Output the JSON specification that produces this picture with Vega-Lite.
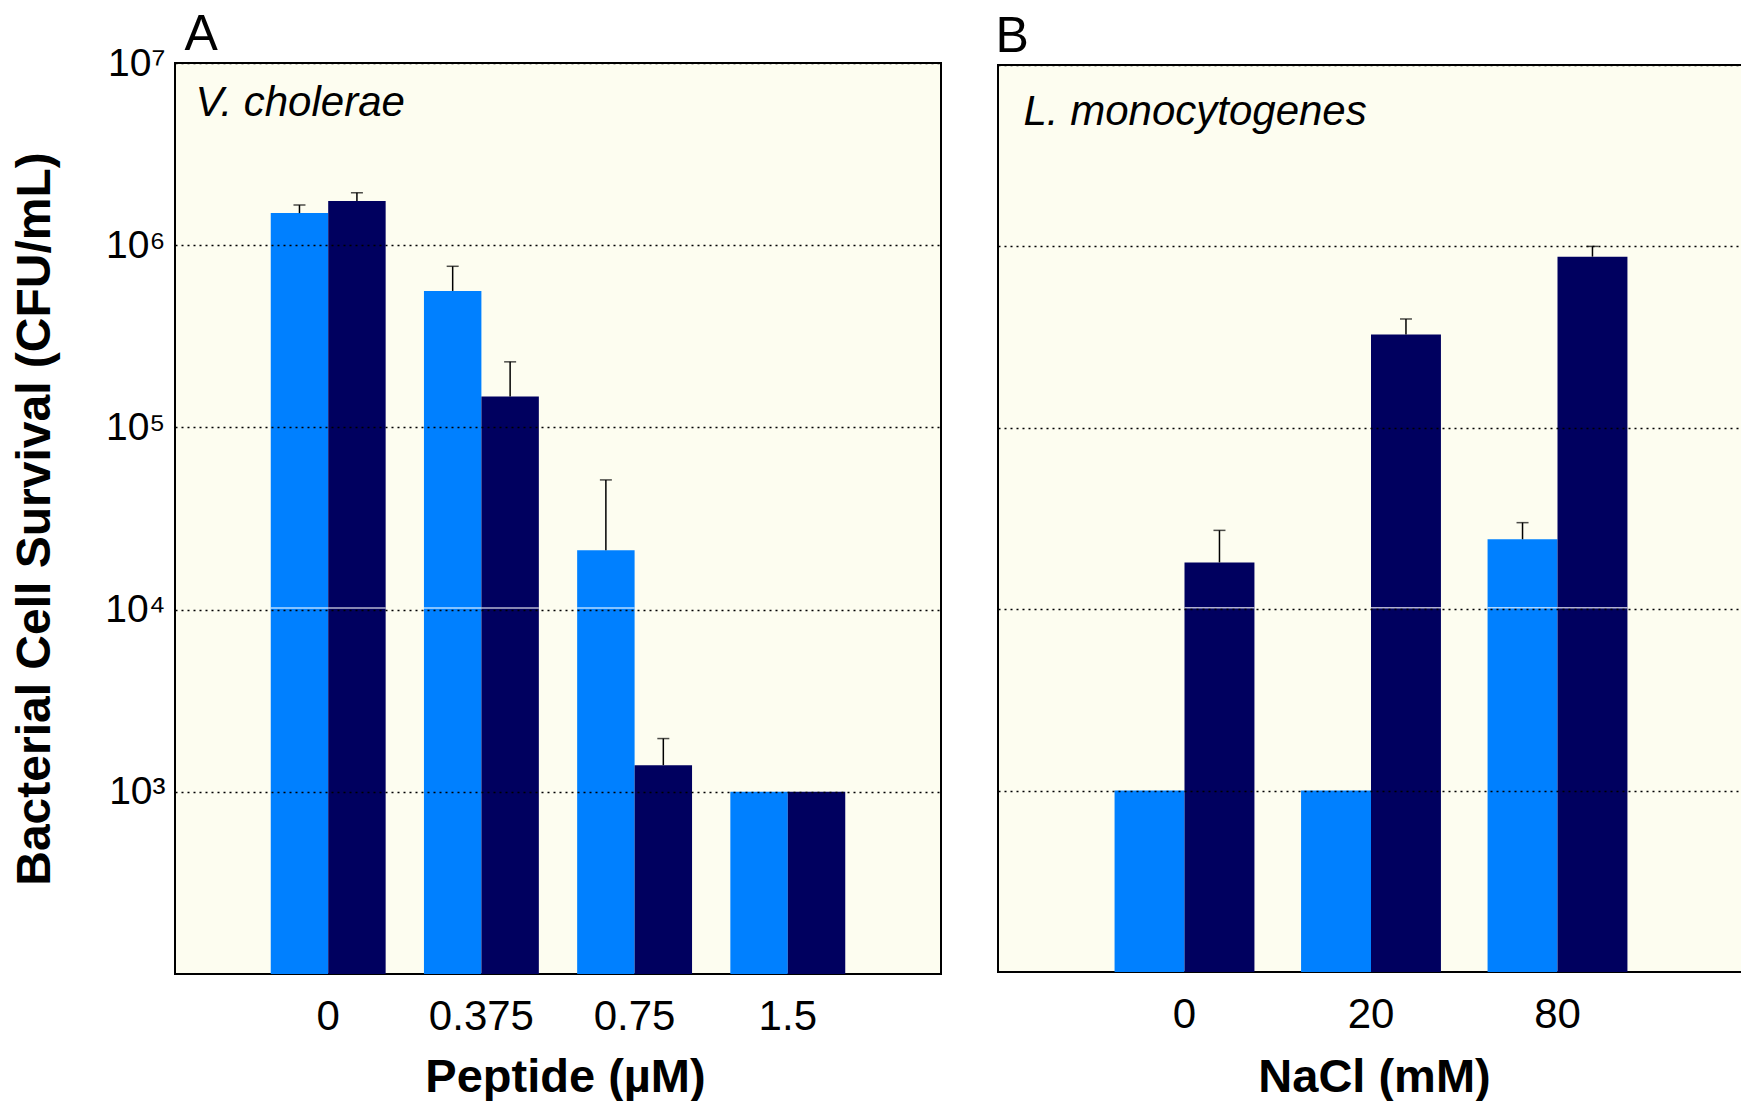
{
  "$schema": "https://vega.github.io/schema/vega-lite/v6.json",
  "autosize": {"type": "none"},
  "padding": {"left": 175, "top": 63, "right": 1566, "bottom": 1038},
  "background": "white",
  "bounds": "flush",
  "spacing": 57,
  "center": true,
  "resolve": {"scale": {"x": "independent", "xOffset": "independent", "y": "independent", "color": "independent"}},
  "datasets": {
    "vc": [
      {"dose": "0", "strain": "Series 1", "value": 1500000, "upper": 1660000},
      {"dose": "0", "strain": "Series 2", "value": 1750000, "upper": 1940000},
      {"dose": "0.375", "strain": "Series 1", "value": 561000, "upper": 766000},
      {"dose": "0.375", "strain": "Series 2", "value": 148000, "upper": 229000},
      {"dose": "0.75", "strain": "Series 1", "value": 21200, "upper": 51500},
      {"dose": "0.75", "strain": "Series 2", "value": 1400, "upper": 1960},
      {"dose": "1.5", "strain": "Series 1", "value": 1000, "upper": null},
      {"dose": "1.5", "strain": "Series 2", "value": 1000, "upper": null}
    ],
    "lm": [
      {"nacl": "0", "strain": "Series 1", "value": 1000, "upper": null},
      {"nacl": "0", "strain": "Series 2", "value": 18100, "upper": 27200},
      {"nacl": "20", "strain": "Series 1", "value": 1000, "upper": null},
      {"nacl": "20", "strain": "Series 2", "value": 327000, "upper": 398000},
      {"nacl": "80", "strain": "Series 1", "value": 24300, "upper": 30000},
      {"nacl": "80", "strain": "Series 2", "value": 878000, "upper": 1000000}
    ]
  },
  "hconcat": [
    {
      "width": 766,
      "height": 911,
      "data": {"name": "vc"},
      "resolve": {"axis": {"x": "independent"}},
      "encoding": {
        "x": {"field": "dose", "type": "nominal", "scale": {"domain": ["0", "0.375", "0.75", "1.5"], "paddingInner": 0.25, "paddingOuter": 0.625}, "axis": null},
        "xOffset": {"field": "strain", "type": "nominal", "scale": {"domain": ["Series 1", "Series 2"], "paddingInner": 0, "paddingOuter": 0}},
        "y": {
          "field": "value", "type": "quantitative", "stack": null,
          "scale": {"type": "log", "domain": [100, 10000000], "nice": false},
          "axis": {
            "values": [1000, 10000, 100000, 1000000, 10000000],
            "labelExpr": "'10' + ['⁰','¹','²','³','⁴','⁵','⁶','⁷'][round(log(datum.value)/LN10)]",
            "labelFontSize": 39, "labelPadding": 10, "labelBaseline": "middle", "labelFlush": false, "labelOverlap": false,
            "ticks": false, "tickSize": 0, "domain": false,
            "grid": true, "gridColor": "black", "gridDash": [2, 4], "gridWidth": 1.5, "gridOpacity": 1,
            "zindex": 1,
            "title": "Bacterial Cell Survival (CFU/mL)", "titleFontSize": 48, "titleFontWeight": "bold",
            "titleX": -126, "titleY": 455.5, "titleAngle": 270, "titleAlign": "center", "titleBaseline": "alphabetic"
          }
        }
      },
      "layer": [
        {
          "mark": {"type": "bar"},
          "encoding": {
            "x": {"field": "dose", "type": "nominal", "scale": {"domain": ["0", "0.375", "0.75", "1.5"], "paddingInner": 0.25, "paddingOuter": 0.625},
              "axis": {"orient": "bottom", "labelAngle": 0, "labelFontSize": 42, "labelPadding": 55, "labelBaseline": "alphabetic", "labelFlush": false, "ticks": false, "tickSize": 0, "domain": false, "grid": false,
                "title": "Peptide (µM)", "titleFontSize": 47, "titleFontWeight": "bold", "titleX": 390, "titleY": 117, "titleAlign": "center", "titleBaseline": "alphabetic"}},
            "y2": {"datum": 100},
            "color": {"field": "strain", "type": "nominal", "scale": {"domain": ["Series 1", "Series 2"], "range": ["#0080ff", "#00005f"]}, "legend": null}
          }
        },
        {
          "transform": [{"filter": "datum.value > 10000"}],
          "mark": {"type": "tick", "color": "white", "size": 57.45, "thickness": 1.5, "yOffset": -1.5},
          "encoding": {"y": {"datum": 10000, "type": "quantitative", "scale": {"type": "log", "domain": [100, 10000000], "nice": false}}}
        },
        {
          "transform": [{"filter": "datum.upper != null"}],
          "mark": {"type": "rule", "color": "black", "strokeWidth": 1.5},
          "encoding": {
            "x": {"field": "dose", "type": "nominal", "scale": {"domain": ["0", "0.375", "0.75", "1.5"], "paddingInner": 0.25, "paddingOuter": 0.625},
              "axis": {"orient": "top", "labels": false, "ticks": false, "domain": false, "grid": false,
                "title": "A", "titleFontSize": 50, "titleFontWeight": "normal", "titleX": 9, "titleY": -14, "titleAlign": "left", "titleAngle": 0, "titleBaseline": "alphabetic"}},
            "y2": {"field": "upper"}
          }
        },
        {
          "transform": [{"filter": "datum.upper != null"}],
          "mark": {"type": "tick", "color": "black", "size": 12, "thickness": 1.5},
          "encoding": {
            "x": {"field": "dose", "type": "nominal", "scale": {"domain": ["0", "0.375", "0.75", "1.5"], "paddingInner": 0.25, "paddingOuter": 0.625},
              "axis": {"orient": "top", "labels": false, "ticks": false, "domain": false, "grid": false,
                "title": "V. cholerae", "titleFontSize": 42, "titleFontStyle": "italic", "titleFontWeight": "normal", "titleX": 20, "titleY": 52, "titleAlign": "left", "titleAngle": 0, "titleBaseline": "alphabetic"}},
            "y": {"field": "upper", "type": "quantitative", "scale": {"type": "log", "domain": [100, 10000000], "nice": false}}
          }
        }
      ]
    },
    {
      "width": 746,
      "height": 907,
      "data": {"name": "lm"},
      "resolve": {"axis": {"x": "independent"}},
      "encoding": {
        "x": {"field": "nacl", "type": "nominal", "scale": {"domain": ["0", "20", "80"], "paddingInner": 0.25, "paddingOuter": 0.625}, "axis": null},
        "xOffset": {"field": "strain", "type": "nominal", "scale": {"domain": ["Series 1", "Series 2"], "paddingInner": 0, "paddingOuter": 0}},
        "y": {
          "field": "value", "type": "quantitative", "stack": null,
          "scale": {"type": "log", "domain": [100, 10000000], "nice": false},
          "axis": {
            "values": [1000, 10000, 100000, 1000000, 10000000],
            "labels": false, "ticks": false, "tickSize": 0, "domain": false,
            "grid": true, "gridColor": "black", "gridDash": [2, 4], "gridWidth": 1.5, "gridOpacity": 1,
            "zindex": 1, "title": null
          }
        }
      },
      "layer": [
        {
          "mark": {"type": "bar"},
          "encoding": {
            "x": {"field": "nacl", "type": "nominal", "scale": {"domain": ["0", "20", "80"], "paddingInner": 0.25, "paddingOuter": 0.625},
              "axis": {"orient": "bottom", "labelAngle": 0, "labelFontSize": 42, "labelPadding": 55, "labelBaseline": "alphabetic", "labelFlush": false, "ticks": false, "tickSize": 0, "domain": false, "grid": false,
                "title": "NaCl (mM)", "titleFontSize": 47, "titleFontWeight": "bold", "titleX": 376, "titleY": 119, "titleAlign": "center", "titleBaseline": "alphabetic"}},
            "y2": {"datum": 100},
            "color": {"field": "strain", "type": "nominal", "scale": {"domain": ["Series 1", "Series 2"], "range": ["#0080ff", "#00005f"]}, "legend": null}
          }
        },
        {
          "transform": [{"filter": "datum.value > 10000"}],
          "mark": {"type": "tick", "color": "white", "size": 69.94, "thickness": 1.5, "yOffset": -1.5},
          "encoding": {"y": {"datum": 10000, "type": "quantitative", "scale": {"type": "log", "domain": [100, 10000000], "nice": false}}}
        },
        {
          "transform": [{"filter": "datum.upper != null"}],
          "mark": {"type": "rule", "color": "black", "strokeWidth": 1.5},
          "encoding": {
            "x": {"field": "nacl", "type": "nominal", "scale": {"domain": ["0", "20", "80"], "paddingInner": 0.25, "paddingOuter": 0.625},
              "axis": {"orient": "top", "labels": false, "ticks": false, "domain": false, "grid": false,
                "title": "B", "titleFontSize": 50, "titleFontWeight": "normal", "titleX": -3, "titleY": -14, "titleAlign": "left", "titleAngle": 0, "titleBaseline": "alphabetic"}},
            "y2": {"field": "upper"}
          }
        },
        {
          "transform": [{"filter": "datum.upper != null"}],
          "mark": {"type": "tick", "color": "black", "size": 12, "thickness": 1.5},
          "encoding": {
            "x": {"field": "nacl", "type": "nominal", "scale": {"domain": ["0", "20", "80"], "paddingInner": 0.25, "paddingOuter": 0.625},
              "axis": {"orient": "top", "labels": false, "ticks": false, "domain": false, "grid": false,
                "title": "L. monocytogenes", "titleFontSize": 42, "titleFontStyle": "italic", "titleFontWeight": "normal", "titleX": 25, "titleY": 59, "titleAlign": "left", "titleAngle": 0, "titleBaseline": "alphabetic"}},
            "y": {"field": "upper", "type": "quantitative", "scale": {"type": "log", "domain": [100, 10000000], "nice": false}}
          }
        }
      ]
    }
  ],
  "config": {
    "font": "Liberation Sans",
    "view": {"fill": "#fdfdf0", "stroke": "black", "strokeWidth": 2},
    "axis": {"labelColor": "black", "titleColor": "black"}
  }
}
